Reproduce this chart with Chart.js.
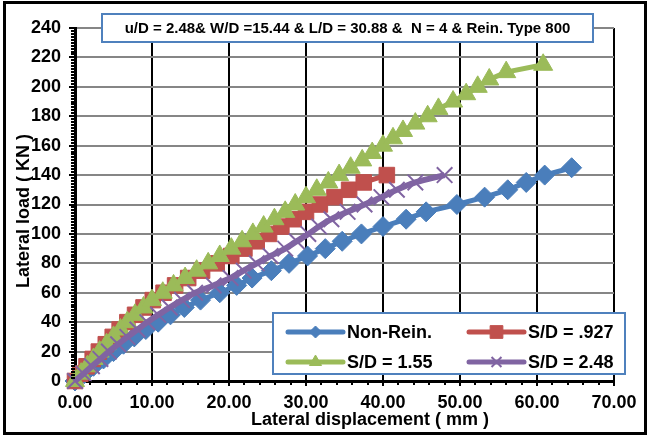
<!DOCTYPE html>
<html>
<head>
<meta charset="utf-8">
<script src="https://cdn.jsdelivr.net/npm/chart.js@4/dist/chart.umd.min.js"></script>
<style>
  html, body { margin: 0; padding: 0; background: #fff; }
  #chart { display: block; }
</style>
</head>
<body>
<canvas id="chart" width="651" height="437"></canvas>
<script>
/* =========================================================
   Lateral load vs lateral displacement
   ========================================================= */

const X_TICKS = [0, 10, 20, 30, 40, 50, 60, 70];
const Y_TICKS = [0, 20, 40, 60, 80, 100, 120, 140, 160, 180, 200, 220, 240];

const SERIES_NAMES = ["Non-Rein.", "S/D = .927", "S/D = 1.55", "S/D = 2.48"];
const TITLE_TEXT = "u/D = 2.48& W/D =15.44 & L/D = 30.88 &  N = 4 & Rein. Type 800";

// Non-Rein.
const dispBlue = [0, 1.2, 2.4, 3.7, 5.0, 6.3, 7.7, 9.2, 10.8, 12.4, 14.2, 16.3, 18.8, 21.0, 23.0,
  25.5, 27.8, 30.2, 32.5, 34.7, 37.2, 40.0, 43.0, 45.6, 49.6, 53.2, 56.2, 58.6, 61.0, 64.5];
const loadBlue = [0, 5, 10, 15, 20, 25, 30, 35, 40, 45, 50, 55, 60, 65, 70,
  75, 80, 85, 90, 95, 100, 105, 110, 115, 120, 125, 130, 135, 140, 145];

// S/D = .927
const dispRed = [0, 0.7, 1.5, 2.3, 3.1, 4.0, 4.9, 5.8, 6.8, 7.8, 8.9, 10.1, 11.5, 13.0, 14.7,
  16.5, 18.4, 20.3, 22.0, 23.6, 25.2, 26.8, 28.4, 30.0, 31.8, 33.7, 35.6, 37.5, 40.5];
const loadRed = [0, 5, 10, 15, 20, 25, 30, 35, 40, 45, 50, 55, 60, 65, 70,
  75, 80, 85, 90, 95, 100, 105, 110, 115, 120, 125, 130, 135, 140];

// S/D = 1.55
const dispGreen = [0, 0.8, 1.6, 2.4, 3.2, 4.1, 5.0, 5.9, 6.8, 7.8, 8.9, 10.0, 11.4, 12.8, 14.3,
  15.8, 17.3, 18.8, 20.3, 21.7, 23.1, 24.5, 25.9, 27.3, 28.6, 30.0, 31.4, 32.9, 34.3, 35.8,
  37.3, 38.6, 40.0, 41.3, 42.6, 44.2, 45.8, 47.2, 49.1, 50.8, 52.3, 53.8, 56.0, 60.8];
const loadGreen = [0, 5, 10, 15, 20, 25, 30, 35, 40, 45, 50, 55, 60, 65, 70,
  75, 80, 85, 90, 95, 100, 105, 110, 115, 120, 125, 130, 135, 140, 145,
  150, 155, 160, 165, 170, 175, 180, 185, 190, 195, 200, 205, 210, 215];

// S/D = 2.48
const dispPurple = [0, 1.1, 2.2, 3.3, 4.4, 5.6, 6.8, 8.1, 9.4, 10.8, 12.3, 13.9, 15.6, 18.0, 20.2,
  21.9, 23.6, 25.4, 27.3, 28.8, 30.3, 31.7, 33.3, 35.4, 37.6, 39.8, 41.8, 44.2, 48.0];
const loadPurple = [0, 5, 10, 15, 20, 25, 30, 35, 40, 45, 50, 55, 60, 65, 70,
  75, 80, 85, 90, 95, 100, 105, 110, 115, 120, 125, 130, 135, 140];

const COLORS = {
  blue: "#4a7ebb",
  red: "#c0504d",
  green: "#9bbb59",
  purple: "#8064a2",
  frame: "#4f81bd",
};

const FONT = "'Liberation Sans', Arial, sans-serif";

// plot area edges, used only for the layout
const AREA = { left: 75, right: 614, top: 28, bottom: 381 };


function toPoints(xs, ys) {
  return xs.map((x, i) => ({ x: x, y: ys[i] }));
}


const LEGEND_ITEMS = [
  { label: SERIES_NAMES[0], color: COLORS.blue, style: "rectRot", radius: 6 },
  { label: SERIES_NAMES[1], color: COLORS.red, style: "rect", radius: 9 },
  { label: SERIES_NAMES[2], color: COLORS.green, style: "triangle", radius: 7 },
  { label: SERIES_NAMES[3], color: COLORS.purple, style: "crossRot", radius: 7 },
];


/* ---------- plugin: frame, title box, minor ticks, axis titles, legend ---------- */

const decorPlugin = {
  id: "decor",

  beforeDraw(chart) {
    const ctx = chart.ctx;
    ctx.save();
    ctx.fillStyle = "#fff";
    ctx.fillRect(0, 0, chart.width, chart.height);
    ctx.restore();
  },

  afterDraw(chart) {
    const ctx = chart.ctx;
    const xs = chart.scales.x;
    const ys = chart.scales.y;

    ctx.save();

    // minor ticks
    ctx.strokeStyle = "#000";
    ctx.lineWidth = 2;
    ctx.beginPath();
    for (let v = 0; v <= 240; v += 2) {
      if (v % 20 === 0) continue;
      const py = Math.round(ys.getPixelForValue(v));
      ctx.moveTo(AREA.left - 4, py);
      ctx.lineTo(AREA.left, py);
    }
    for (let v = 0; v <= 70; v += 2) {
      if (v % 10 === 0) continue;
      const px = Math.round(xs.getPixelForValue(v));
      ctx.moveTo(px, AREA.bottom);
      ctx.lineTo(px, AREA.bottom + 4);
    }
    ctx.stroke();

    // title box
    ctx.fillStyle = "#fff";
    ctx.fillRect(102, 14, 491, 28);
    ctx.strokeStyle = COLORS.frame;
    ctx.lineWidth = 2;
    ctx.strokeRect(102, 14, 491, 28);
    ctx.fillStyle = "#000";
    ctx.font = "bold 15px " + FONT;
    ctx.textAlign = "center";
    ctx.textBaseline = "middle";
    ctx.fillText(TITLE_TEXT, 347.5, 28.5);

    // axis titles
    ctx.font = "bold 18px " + FONT;
    ctx.fillText("Lateral displacement ( mm )", 370, 420);
    ctx.save();
    ctx.translate(24, 211);
    ctx.rotate(-Math.PI / 2);
    ctx.fillText("Lateral load ( KN )", 0, 0);
    ctx.restore();

    // legend
    ctx.fillStyle = "#fff";
    ctx.fillRect(273, 313, 352, 61);
    ctx.strokeStyle = COLORS.frame;
    ctx.lineWidth = 2;
    ctx.strokeRect(273, 313, 352, 61);

    const cols = [288, 469];
    const rows = [332, 362];
    ctx.font = "bold 18px " + FONT;
    ctx.textAlign = "left";

    LEGEND_ITEMS.forEach((item, i) => {
      const x0 = cols[i % 2];
      const y0 = rows[Math.floor(i / 2)];

      ctx.strokeStyle = item.color;
      ctx.lineWidth = 5;
      ctx.lineCap = "round";
      ctx.beginPath();
      ctx.moveTo(x0, y0);
      ctx.lineTo(x0 + 55, y0);
      ctx.stroke();

      ctx.fillStyle = item.color;
      ctx.strokeStyle = item.color;
      ctx.lineWidth = item.style === "crossRot" ? 2 : 1;
      ctx.lineCap = "butt";
      Chart.helpers.drawPoint(ctx, {
        pointStyle: item.style,
        radius: item.radius,
        rotation: 0,
        borderWidth: ctx.lineWidth,
      }, x0 + 27.5, y0);

      ctx.fillStyle = "#000";
      ctx.fillText(item.label, x0 + 59, y0 + 1);
    });

    // outer frame
    ctx.strokeStyle = "#000";
    ctx.lineWidth = 3;
    ctx.strokeRect(4.5, 2.5, 641, 431);

    ctx.restore();
  },
};


/* ---------- datasets ---------- */

function makeDataset(label, xs, ys, color, style, radius, order, extra) {
  return Object.assign({
    label: label,
    data: toPoints(xs, ys),
    borderColor: color,
    backgroundColor: color,
    pointBackgroundColor: color,
    pointBorderColor: color,
    pointStyle: style,
    pointRadius: radius,
    pointBorderWidth: 1,
    borderWidth: 5,
    tension: 0,
    clip: false,
    order: order,
  }, extra || {});
}


function initChart() {
  const ctx = document.getElementById("chart");

  new Chart(ctx, {
    type: "line",
    data: {
      datasets: [
        makeDataset(SERIES_NAMES[0], dispBlue, loadBlue, COLORS.blue, "rectRot", 10, 3),
        makeDataset(SERIES_NAMES[1], dispRed, loadRed, COLORS.red, "rect", 11, 2),
        makeDataset(SERIES_NAMES[2], dispGreen, loadGreen, COLORS.green, "triangle", 11, 1),
        makeDataset(SERIES_NAMES[3], dispPurple, loadPurple, COLORS.purple, "crossRot", 11, 0, {
          borderWidth: 6,
          pointBorderWidth: 2,
          tension: 0.4,
          cubicInterpolationMode: "monotone",
        }),
      ],
    },
    options: {
      responsive: false,
      animation: false,
      events: [],
      layout: {
        padding: { top: AREA.top, right: 651 - AREA.right, bottom: 0, left: 0 },
      },
      plugins: {
        legend: { display: false },
        tooltip: { enabled: false },
      },
      scales: {
        x: {
          type: "linear",
          min: 0,
          max: 70,
          afterFit: (scale) => { scale.height = 437 - AREA.bottom; },
          afterBuildTicks: (scale) => { scale.ticks = X_TICKS.map((v) => ({ value: v })); },
          ticks: {
            color: "#000",
            padding: 6,
            maxRotation: 0,
            font: { family: FONT, size: 18, weight: "bold" },
            callback: (v) => Number(v).toFixed(2),
          },
          grid: {
            color: "#000",
            lineWidth: 2,
            tickColor: "#000",
            tickLength: 5,
            tickWidth: 2,
          },
          border: { color: "#000", width: 3 },
        },
        y: {
          type: "linear",
          min: 0,
          max: 240,
          afterFit: (scale) => { scale.width = AREA.left; },
          afterBuildTicks: (scale) => { scale.ticks = Y_TICKS.map((v) => ({ value: v })); },
          ticks: {
            color: "#000",
            padding: 8,
            font: { family: FONT, size: 18, weight: "bold" },
          },
          grid: {
            color: "#868686",
            lineWidth: 2,
            tickColor: "#000",
            tickLength: 6,
            tickWidth: 2,
          },
          border: { color: "#000", width: 3 },
        },
      },
    },
    plugins: [decorPlugin],
  });
}

document.addEventListener("DOMContentLoaded", initChart);
</script>
</body>
</html>
